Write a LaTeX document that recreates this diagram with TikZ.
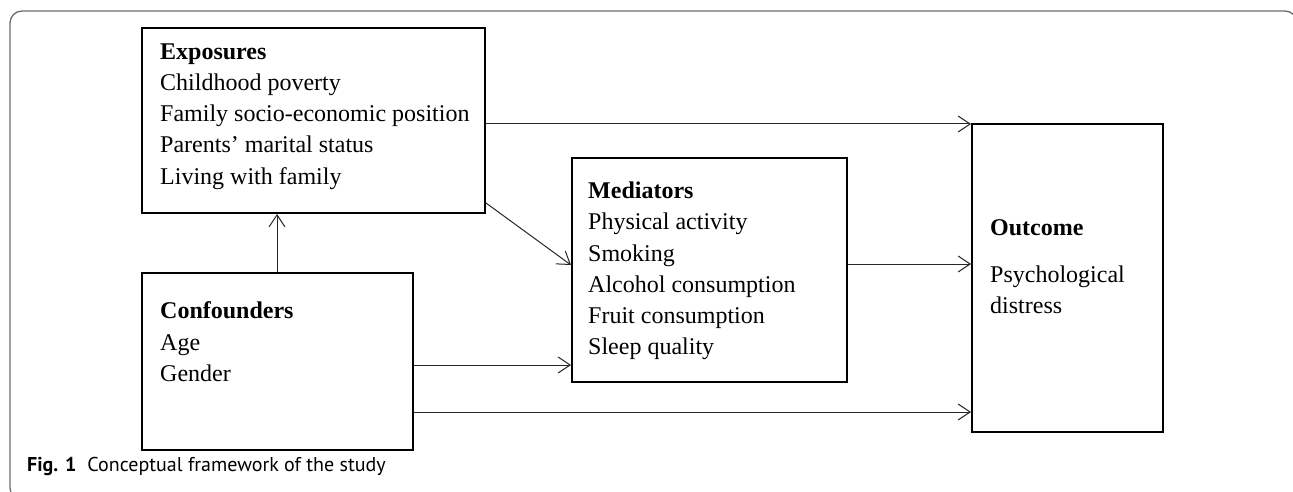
\documentclass[tikz,border=0pt]{standalone}
\usepackage{fontspec}
\setmainfont{Liberation Serif}
\newfontfamily\capfont{PT Sans}
\usetikzlibrary{arrows.meta}
\tikzset{
  box/.style={draw=black, line width=2pt, inner sep=0pt},
  txt/.style={anchor=base west, inner sep=0pt, font=\fontsize{24}{28}\selectfont},
  hd/.style={txt, font=\fontsize{24}{28}\selectfont\bfseries},
  conn/.style={draw=black!85, line width=1pt, -{Straight Barb[length=12pt,width=16pt,line width=1pt]}},
  frame/.style={draw=black!58, line width=1.3pt, rounded corners=12pt},
}
\begin{document}
\begin{tikzpicture}[x=1pt,y=-1pt]
\useasboundingbox (0,0) rectangle (1293,492);
\begin{scope}
\clip (0,0) rectangle (1293,492);
\draw[frame] (10,11) rectangle (1297,500);
\end{scope}
% boxes
\node[box, minimum width=343pt, minimum height=185pt] (expo) at (313.5,120.5) {};
\node[box, minimum width=271pt, minimum height=177pt] (conf) at (277.5,361.5) {};
\node[box, minimum width=275pt, minimum height=224pt] (medi) at (709.5,270) {};
\node[box, minimum width=191pt, minimum height=308pt] (outc) at (1067.5,278) {};
% exposures text
\node[hd]  (e0) at (160,60)  {Exposures};
\node[txt] (e1) at (160,91)  {Childhood poverty};
\node[txt] (e2) at (160,122) {Family socio-economic position};
\node[txt] (e3) at (160,153) {Parents’ marital status};
\node[txt] (e4) at (160,184) {Living with family};
% confounders text
\node[hd]  (c0) at (160,318) {Confounders};
\node[txt] (c1) at (160,350) {Age};
\node[txt] (c2) at (160,381) {Gender};
% mediators text
\node[hd]  (m0) at (588,198) {Mediators};
\node[txt] (m1) at (588,229) {Physical activity};
\node[txt] (m2) at (588,261) {Smoking};
\node[txt] (m3) at (588,292) {Alcohol consumption};
\node[txt] (m4) at (588,323) {Fruit consumption};
\node[txt] (m5) at (588,354) {Sleep quality};
% outcome text
\node[hd]  (o0) at (990,235) {Outcome};
\node[txt] (o1) at (990,282) {Psychological};
\node[txt] (o2) at (990,313) {distress};
% connectors
\draw[conn] (expo.east |- 0,124) -- (outc.west |- 0,124);
\draw[conn] (486,203) -- (medi.west |- 0,265);
\draw[conn] (conf.north -| 277,0) -- (expo.south -| 277,0);
\draw[conn] (conf.east |- 0,365) -- (medi.west |- 0,365);
\draw[conn] (conf.east |- 0,412) -- (outc.west |- 0,412);
\draw[conn] (medi.east |- 0,264) -- (outc.west |- 0,264);
% caption
\node[anchor=base west, inner sep=0pt, font=\capfont\fontsize{20}{23}\selectfont] (cap) at (27,471)
  {\textbf{Fig. 1}\hspace{11pt}Conceptual framework of the study};
\end{tikzpicture}
\end{document}
